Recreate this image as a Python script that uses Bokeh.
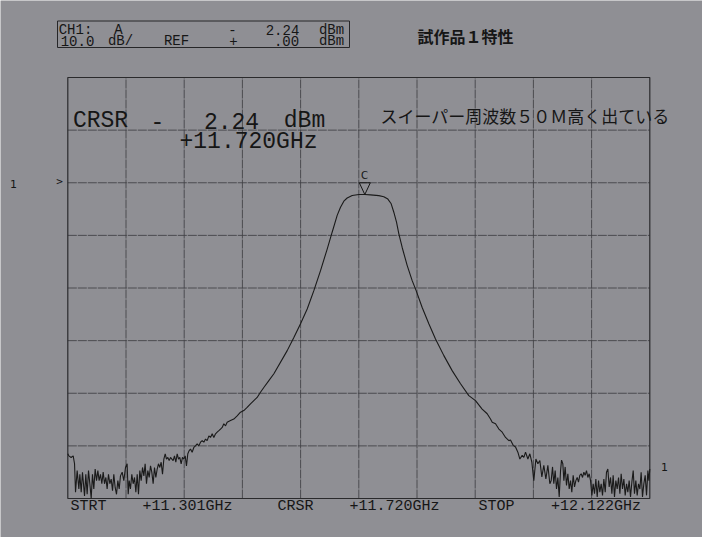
from bokeh.plotting import figure
from bokeh.models import Label, BoxAnnotation, Range1d
from bokeh.embed import file_html
from bokeh.resources import INLINE

# ---------------- instrument settings ----------------
START_GHZ = 11.301
STOP_GHZ = 12.122
CURSOR_GHZ = 11.720
CURSOR_DBM = -2.24
REF_DBM = 0.0
DB_PER_DIV = 10.0
TOP_DBM = 20.0        # reference line sits two divisions below the top
N_XDIV = 10
N_YDIV = 8

# ---------------- trace ----------------
left_noise_ghz = [11.3010, 11.3025, 11.3057, 11.3086, 11.3105, 11.3119, 11.3142, 11.3166, 11.3180, 11.3199,
                  11.3217, 11.3246, 11.3264, 11.3283, 11.3302, 11.3321, 11.3340, 11.3358, 11.3377, 11.3396,
                  11.3415, 11.3434, 11.3452, 11.3471, 11.3490, 11.3509, 11.3528, 11.3547, 11.3565, 11.3584,
                  11.3603, 11.3622, 11.3641, 11.3659, 11.3678, 11.3697, 11.3716, 11.3735, 11.3753, 11.3777,
                  11.3800, 11.3824, 11.3847, 11.3862, 11.3876, 11.3894, 11.3913, 11.3932, 11.3951, 11.3970,
                  11.3989, 11.4007, 11.4026, 11.4045, 11.4064, 11.4083, 11.4101, 11.4120, 11.4139, 11.4158,
                  11.4177, 11.4195, 11.4214, 11.4233, 11.4252, 11.4271, 11.4289, 11.4308, 11.4327, 11.4346,
                  11.4365, 11.4384, 11.4402, 11.4421, 11.4440, 11.4459, 11.4478, 11.4496, 11.4515, 11.4534,
                  11.4553, 11.4572, 11.4590, 11.4609, 11.4628, 11.4647, 11.4666, 11.4684, 11.4703, 11.4722]
left_noise_dbm = [-51.5, -51.9, -52.2, -51.9, -53.4, -58.8, -54.7, -58.2, -55.4, -58.8,
                  -55.0, -59.5, -55.4, -59.2, -54.7, -57.2, -60.0, -55.4, -58.2, -54.4,
                  -56.6, -54.7, -56.6, -55.4, -57.2, -55.0, -57.2, -56.0, -58.2, -55.4,
                  -57.2, -56.3, -58.5, -55.4, -57.9, -59.2, -56.6, -58.2, -55.7, -55.0,
                  -56.6, -54.1, -53.4, -59.2, -56.6, -58.2, -55.4, -57.2, -56.0, -58.8,
                  -55.4, -59.2, -54.7, -56.6, -54.1, -55.7, -53.4, -57.2, -54.7, -56.0,
                  -53.8, -55.0, -57.2, -54.1, -56.0, -54.4, -53.4, -54.1, -53.1, -55.4,
                  -52.5, -51.5, -52.5, -52.2, -52.8, -52.2, -52.5, -52.8, -51.9, -53.1,
                  -51.5, -52.5, -52.2, -53.4, -52.2, -52.5, -51.9, -53.8, -51.5, -50.9]

left_skirt_ghz = [11.4741, 11.4764, 11.4788, 11.4811, 11.4835, 11.4858, 11.4882, 11.4906, 11.4929, 11.4953,
                  11.4976, 11.5000, 11.5023, 11.5047, 11.5070, 11.5094, 11.5117, 11.5141, 11.5164, 11.5188,
                  11.5211, 11.5235, 11.5258, 11.5305, 11.5352, 11.5399, 11.5446, 11.5493, 11.5540, 11.5587,
                  11.5634, 11.5681, 11.5728, 11.5775, 11.5846]
left_skirt_dbm = [-50.6, -51.2, -50.3, -50.0, -49.6, -50.0, -49.3, -49.0, -49.3, -48.7,
                  -49.0, -48.1, -48.4, -47.7, -48.4, -47.7, -47.4, -47.1, -46.8, -46.5,
                  -45.8, -46.2, -45.5, -45.2, -44.9, -44.3, -43.6, -43.3, -42.7, -42.0,
                  -41.4, -40.8, -39.8, -38.9, -37.6]

passband_ghz = [11.5917, 11.6105, 11.6199, 11.6293, 11.6387, 11.6481, 11.6575, 11.6669, 11.6739, 11.6810,
                11.6857, 11.6904, 11.6951, 11.7022, 11.7116, 11.7200, 11.7280, 11.7398, 11.7468, 11.7525,
                11.7572, 11.7609, 11.7647, 11.7680, 11.7727, 11.7797, 11.7868, 11.7924, 11.8009, 11.8103,
                11.8197, 11.8315, 11.8432, 11.8550, 11.8667]
passband_dbm = [-36.3, -31.9, -29.4, -26.8, -24.0, -20.5, -16.7, -12.6, -9.4, -6.2,
                -4.65, -3.5, -2.9, -2.43, -2.24, -2.24, -2.3, -2.45, -2.65, -3.1,
                -4.0, -5.6, -7.5, -9.7, -12.3, -15.7, -18.6, -20.5, -23.7, -26.8,
                -29.7, -32.85, -35.7, -38.2, -40.45]

right_skirt_ghz = [11.8761, 11.8855, 11.8926, 11.8973, 11.8997, 11.9044, 11.9091, 11.9138, 11.9185, 11.9232,
                   11.9255, 11.9293, 11.9326, 11.9359, 11.9387, 11.9420, 11.9443, 11.9467, 11.9500, 11.9528,
                   11.9556, 11.9584, 11.9613, 11.9641, 11.9669, 11.9697, 11.9725, 11.9754, 11.9782, 11.9810]
right_skirt_dbm = [-41.4, -43.0, -43.9, -44.9, -45.5, -45.8, -46.8, -47.4, -48.4, -49.0,
                   -48.9, -49.9, -50.2, -51.2, -52.5, -51.8, -52.2, -51.2, -52.5, -51.5,
                   -53.1, -56.6, -52.5, -53.4, -52.8, -55.9, -53.7, -56.3, -53.7, -57.2]

right_noise_ghz = [11.9829, 11.9848, 11.9866, 11.9885, 11.9904, 11.9923, 11.9942, 11.9961, 11.9975, 11.9993,
                   12.0008, 12.0026, 12.0045, 12.0064, 12.0083, 12.0102, 12.0120, 12.0139, 12.0158, 12.0177,
                   12.0196, 12.0214, 12.0233, 12.0252, 12.0271, 12.0290, 12.0308, 12.0327, 12.0346, 12.0365,
                   12.0384, 12.0403, 12.0421, 12.0440, 12.0459, 12.0478, 12.0497, 12.0515, 12.0534, 12.0553,
                   12.0572, 12.0591, 12.0609, 12.0628, 12.0647, 12.0666, 12.0685, 12.0703, 12.0722, 12.0741,
                   12.0760, 12.0779, 12.0798, 12.0816, 12.0835, 12.0854, 12.0873, 12.0892, 12.0910, 12.0929,
                   12.0948, 12.0967, 12.0986, 12.1004, 12.1023, 12.1042, 12.1061, 12.1080, 12.1098, 12.1117,
                   12.1136, 12.1155, 12.1174, 12.1193, 12.1207, 12.1220]
right_noise_dbm = [-56.6, -54.0, -57.2, -54.7, -58.2, -56.0, -59.7, -54.7, -52.7, -53.4,
                   -56.6, -54.0, -57.5, -55.3, -58.2, -56.6, -58.8, -55.6, -57.8, -56.6,
                   -56.0, -56.9, -55.6, -55.3, -56.0, -55.0, -55.6, -54.7, -56.0, -55.3,
                   -56.6, -59.4, -57.2, -59.1, -56.3, -59.7, -56.6, -58.8, -57.2, -59.4,
                   -56.3, -58.8, -55.0, -54.4, -57.8, -56.0, -59.1, -55.6, -59.7, -56.6,
                   -58.2, -56.0, -59.1, -55.3, -58.2, -56.3, -59.4, -57.2, -58.8, -56.6,
                   -59.7, -56.9, -54.7, -59.1, -56.6, -59.4, -57.2, -58.2, -55.0, -59.7,
                   -57.2, -55.6, -59.4, -54.7, -56.6, -54.4]

# ---------------- annotation texts ----------------
header_line1 = ["CH1:", "A", "-", "2.24", "dBm"]
header_line2 = ["10.0", "dB/", "REF", "+", ".00", "dBm"]
title_jp = "試作品１特性"
note_jp = "スイーパー周波数５０Ｍ高く出ている"
crsr_line1 = ["CRSR", "-", "2.24", "dBm"]
crsr_line2 = "+11.720GHz"
footer = ["STRT", "+11.301GHz", "CRSR", "+11.720GHz", "STOP", "+12.122GHz"]

# ---------------- assemble ----------------
freq_ghz = left_noise_ghz + left_skirt_ghz + passband_ghz + right_skirt_ghz + right_noise_ghz
level_dbm = left_noise_dbm + left_skirt_dbm + passband_dbm + right_skirt_dbm + right_noise_dbm
assert len(freq_ghz) == len(level_dbm)

BOTTOM_DBM = TOP_DBM - N_YDIV * DB_PER_DIV
SPAN = STOP_GHZ - START_GHZ

BG = "#8f8f94"
INK = "#161616"
GRID = "#404044"

W, H = 702, 537
FL, FR, FT, FB = 67.3, 649.3, 77.0, 498.0   # graticule edges in page pixels
GHZ_PER_PX = SPAN / (FR - FL)
DB_PER_PX = (TOP_DBM - BOTTOM_DBM) / (FB - FT)

# the plotting frame fills the whole page so that the notes around the graticule can be drawn
p = figure(width=W, height=H, output_backend="svg", toolbar_location=None,
           x_range=Range1d(START_GHZ - FL * GHZ_PER_PX, START_GHZ + (W - FL) * GHZ_PER_PX),
           y_range=Range1d(TOP_DBM - (H - FT) * DB_PER_PX, TOP_DBM + FT * DB_PER_PX),
           min_border_left=0, min_border_right=0, min_border_top=0, min_border_bottom=0)
p.xaxis.visible = False
p.yaxis.visible = False
p.xgrid.visible = False
p.ygrid.visible = False
p.background_fill_color = BG
p.border_fill_color = BG
p.outline_line_color = None


def gx(px):
    return START_GHZ + (px - FL) * GHZ_PER_PX


def gy(py):
    return TOP_DBM - (py - FT) * DB_PER_PX


def lab(text, px, py, size, font="Liberation Mono", align="center", bold=False, color=INK):
    p.add_layout(Label(x=gx(px), y=gy(py), text=text, text_font=font,
                       text_font_size=f"{size}px", text_align=align, text_baseline="middle",
                       text_color=color, text_font_style="bold" if bold else "normal"))


# graticule: 10 x 8 divisions
vx = [START_GHZ + i * SPAN / N_XDIV for i in range(1, N_XDIV)]
hy = [BOTTOM_DBM + j * DB_PER_DIV for j in range(1, N_YDIV)]
p.segment(x0=vx, y0=[BOTTOM_DBM] * len(vx), x1=vx, y1=[TOP_DBM] * len(vx),
          line_color=GRID, line_width=1, line_alpha=0.85, line_dash="9 1")
p.segment(x0=[START_GHZ] * len(hy), y0=hy, x1=[STOP_GHZ] * len(hy), y1=hy,
          line_color=GRID, line_width=1, line_alpha=0.85, line_dash="9 1")
p.quad(left=[START_GHZ], right=[STOP_GHZ], bottom=[BOTTOM_DBM], top=[TOP_DBM],
       fill_alpha=0, line_color="#2a2a2c", line_width=1.2)

# trace
p.line(freq_ghz, level_dbm, line_color="#1a1a1a", line_width=1.1)

# cursor marker: hollow triangle from reference line down to the cursor level
half_w = 5.5 * GHZ_PER_PX
p.patch([CURSOR_GHZ - half_w, CURSOR_GHZ + half_w, CURSOR_GHZ],
        [REF_DBM, REF_DBM, CURSOR_DBM], fill_alpha=0, line_color=INK, line_width=1)
lab("C", 364, 175, 10, font="DejaVu Sans")

# header box
p.add_layout(BoxAnnotation(left=gx(57), right=gx(349), top=gy(20.5), bottom=gy(47),
                           fill_alpha=0, line_color="#262628", line_width=1, line_alpha=1))
for t, cx in zip(header_line1, [75, 118, 232, 282, 331]):
    lab(t, cx, 29, 14)
for t, cx in zip(header_line2, [77, 120, 176, 233, 286, 331]):
    lab(t, cx, 40.5, 14)

# Japanese notes
lab(title_jp, 417, 35, 16, font="Noto Sans CJK JP", align="left", bold=True)
lab(note_jp, 380, 115, 17, font="Noto Sans CJK JP", align="left")

# cursor readout inside the graticule
for t, cx in zip(crsr_line1, [100, 157, 231, 304]):
    lab(t, cx, 120, 23)
lab(crsr_line2, 248, 141, 23)

# footer annotation
for t, cx in zip(footer, [88, 187, 295, 394, 496, 595.5]):
    lab(t, cx, 506, 15)

# reference level marks
lab(">", 59, 181, 11, font="DejaVu Sans Mono")
lab("1", 13, 183, 11, font="DejaVu Sans")
lab("1", 664, 466, 11, font="DejaVu Sans")

open("out.html", "w").write(file_html(p, INLINE, title="試作品１特性"))
